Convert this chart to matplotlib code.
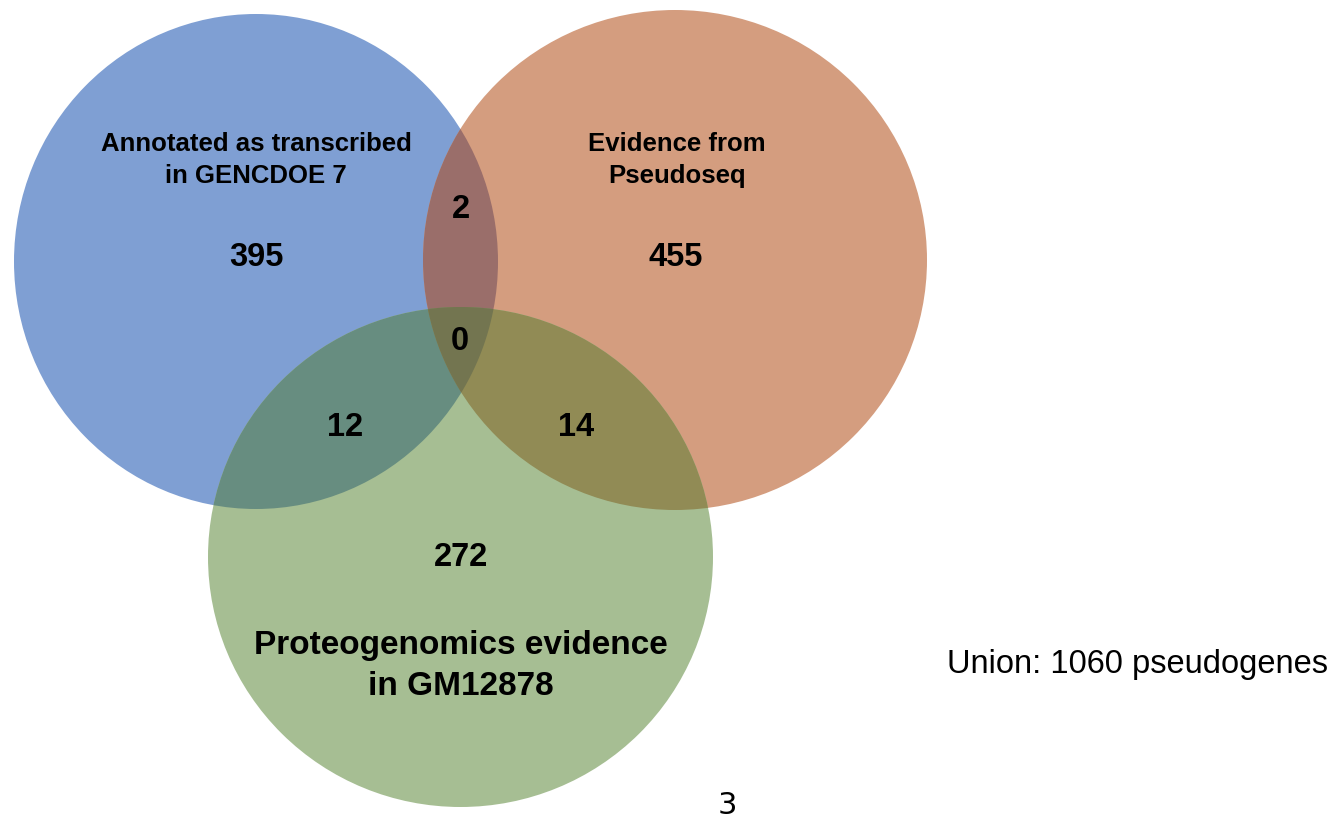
import numpy as np
import matplotlib
matplotlib.use('Agg')
import matplotlib.pyplot as plt
from matplotlib.patches import Ellipse, PathPatch
from matplotlib.path import Path

# set names and region counts
set_names = ['Annotated as transcribed\nin GENCDOE 7',
             'Evidence from\nPseudoseq',
             'Proteogenomics evidence\nin GM12878']
only_counts = [395, 455, 272]       # blue only, orange only, green only
pair_labels = ['AB', 'AC', 'BC']
pair_counts = [2, 12, 14]
triple_count = 0
union_text = 'Union: 1060 pseudogenes'
page_number = '3'

# layout in pixel coords (y down)
W, H = 1338, 818
circles = [((256, 261.5), 484, 495),
           ((675, 260), 504, 500),
           ((460.5, 557), 505, 500)]
base_colors = ['#7f9fd3', '#d49d7f', '#a6be93']
pair_colors = {'AB': '#9a6e6a', 'AC': '#678d80', 'BC': '#918b55'}
triple_color = '#737550'

fig = plt.figure(figsize=(W / 100, H / 100), dpi=100)
ax = fig.add_axes([0, 0, 1, 1])
ax.set_xlim(0, W)
ax.set_ylim(H, 0)
ax.axis('off')


def make_ell(i, **kw):
    (cx, cy), w, h = circles[i]
    return Ellipse((cx, cy), w, h, **kw)


def ell_path(i):
    e = make_ell(i)
    return e.get_path().transformed(e.get_patch_transform())


def ell_pts(i, n=2000):
    (cx, cy), w, h = circles[i]
    t = np.linspace(0, 2 * np.pi, n)
    return np.column_stack([cx + w / 2 * np.cos(t), cy + h / 2 * np.sin(t)])


for i in range(3):
    ax.add_patch(make_ell(i, facecolor=base_colors[i], edgecolor='none'))

idx = {'A': 0, 'B': 1, 'C': 2}
for key in pair_labels:
    a, b = idx[key[0]], idx[key[1]]
    clip = make_ell(b, facecolor='none', edgecolor='none')
    ax.add_patch(clip)
    p = make_ell(a, facecolor=pair_colors[key], edgecolor='none')
    ax.add_patch(p)
    p.set_clip_path(clip)

# triple overlap as a polygon from the boundary points inside the other two
paths = [ell_path(i) for i in range(3)]
parts = []
for i in range(3):
    pts = ell_pts(i)
    others = [j for j in range(3) if j != i]
    m = paths[others[0]].contains_points(pts) & paths[others[1]].contains_points(pts)
    parts.append(pts[m])
allp = np.vstack([p for p in parts if len(p)])
cen = allp.mean(axis=0)
allp = allp[np.argsort(np.arctan2(allp[:, 1] - cen[1], allp[:, 0] - cen[0]))]
ax.add_patch(PathPatch(Path(np.vstack([allp, allp[:1]]), closed=True),
                       facecolor=triple_color, edgecolor='none'))

bold = dict(family='Liberation Sans', fontweight='bold', ha='center',
            va='center', color='black')

ax.text(256, 160, set_names[0], fontsize=18.5, linespacing=1.38, **bold)
ax.text(677, 160, set_names[1], fontsize=18.5, linespacing=1.38, **bold)
ax.text(461, 666, set_names[2], fontsize=24, linespacing=1.38, **bold)

num_fs = 23.5
ax.text(256, 258, str(only_counts[0]), fontsize=num_fs, **bold)
ax.text(676, 258, str(only_counts[1]), fontsize=num_fs, **bold)
ax.text(461, 558, str(only_counts[2]), fontsize=num_fs, **bold)

pair_pos = {'AB': (461, 210), 'AC': (345, 428), 'BC': (576, 428)}
for key, cnt in zip(pair_labels, pair_counts):
    ax.text(*pair_pos[key], str(cnt), fontsize=num_fs, **bold)
ax.text(460, 342, str(triple_count), fontsize=num_fs, **bold)

ax.text(947, 665, union_text, family='Liberation Sans', fontsize=23.5,
        ha='left', va='center')
ax.text(727, 805, page_number, family='DejaVu Sans', fontsize=22,
        ha='center', va='center')

fig.savefig('out.png', dpi=100)
